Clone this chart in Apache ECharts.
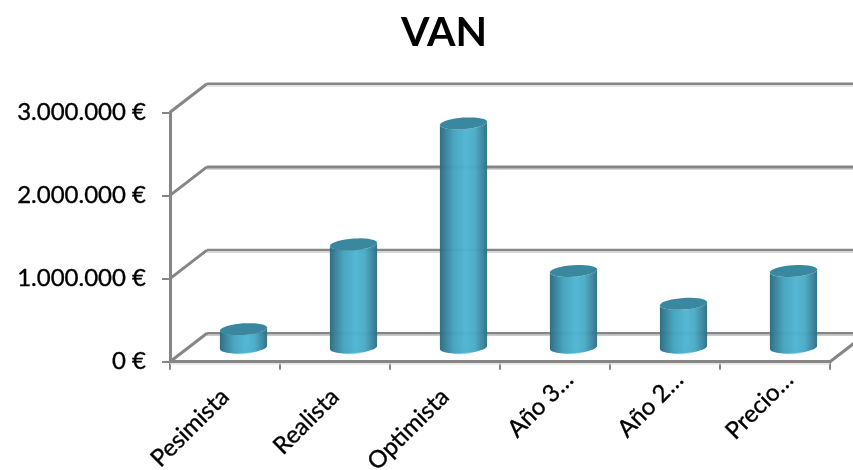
<!DOCTYPE html>
<html>
<head>
<meta charset="utf-8">
<script src="https://cdn.jsdelivr.net/npm/echarts@6/dist/echarts.min.js"></script>
<style>
  html, body { margin: 0; padding: 0; background: #fff; }
  #chart { width: 853px; height: 470px; }
</style>
</head>
<body>
<div id="chart"></div>
<script>
// VAN per scenario, drawn as 3D-style cylinders on a perspective floor.
const chartTitle = 'VAN';
const categories = ['Pesimista', 'Realista', 'Optimista', 'Año 3…', 'Año 2…', 'Precio…'];
const vanValues = [220000, 1240000, 2695000, 920000, 525000, 920000];
const tickValues = [0, 1000000, 2000000, 3000000];
const tickLabels = ['0 €', '1.000.000 €', '2.000.000 €', '3.000.000 €'];

// Oblique projection of the chart depth, in pixels.
const DEPTH_X = 37;
const DEPTH_Y = 28.5;
const GRID_COLOR = '#868686';
const SHADOW_COLOR = '#c9c9c9';
const FONT = 'Lato';
// A hairline outline gives the thin labels a little more weight.
const LABEL_WEIGHT = { textBorderColor: '#000', textBorderWidth: 0.35 };

function line(x1, y1, x2, y2, color, width) {
  return {
    type: 'line',
    shape: { x1, y1, x2, y2 },
    style: { stroke: color, lineWidth: width, fill: null }
  };
}

// Back wall gridlines with the diagonal that joins them to the front axis.
function renderWall(params, api) {
  const level = api.value(1);
  const p = api.coord([0, level]);
  const band = api.size([1, 0])[0];
  const x0 = p[0] - band / 2;
  const y0 = p[1];
  const backWidth = level === 2000000 ? 3 : 2.4;
  const children = [
    line(x0, y0, x0 + DEPTH_X, y0 - DEPTH_Y, GRID_COLOR, 3),
    line(x0 + DEPTH_X, y0 - DEPTH_Y + 2.2, api.getWidth(), y0 - DEPTH_Y + 2.2, SHADOW_COLOR, 1.2),
    line(x0 + DEPTH_X, y0 - DEPTH_Y, api.getWidth(), y0 - DEPTH_Y, GRID_COLOR, backWidth)
  ];
  if (level === 0) {
    const xr = x0 + band * categories.length;
    children.push(line(xr, y0, xr + DEPTH_X, y0 - DEPTH_Y, GRID_COLOR, 3));
    children.push(line(x0, y0 + 2.2, xr, y0 + 2.2, '#dedede', 1.4));
  }
  return { type: 'group', children };
}

// Tilted ellipse outline sampled between two angles.
function ellipsePoints(cx, cy, rx, ry, tilt, from, to) {
  const pts = [];
  const steps = 36;
  for (let i = 0; i <= steps; i++) {
    const a = from + (to - from) * i / steps;
    const ex = rx * Math.cos(a);
    const ey = ry * Math.sin(a);
    pts.push([
      cx + ex * Math.cos(tilt) - ey * Math.sin(tilt),
      cy + ex * Math.sin(tilt) + ey * Math.cos(tilt)
    ]);
  }
  return pts;
}

function renderCylinder(params, api) {
  const i = api.value(0);
  const top = api.coord([i, api.value(1)]);
  const base = api.coord([i, 0]);
  const cx = top[0] + DEPTH_X / 2;
  const yTop = top[1] - DEPTH_Y / 2;
  const yBase = base[1] - DEPTH_Y / 2;
  const rx = api.size([1, 0])[0] * 0.215;
  const ry = 5.8;
  const tilt = -0.07;
  const front = ellipsePoints(cx, yBase, rx, ry, tilt, 0, Math.PI);
  const back = ellipsePoints(cx, yTop, rx, ry, tilt, Math.PI, 0);
  const rim = ellipsePoints(cx, yBase + 0.9, rx * 0.72, ry, tilt, 0, Math.PI);
  const body = new echarts.graphic.LinearGradient(0, 0, 1, 0, [
    { offset: 0, color: '#2a6a7f' },
    { offset: 0.1, color: '#347f97' },
    { offset: 0.3, color: '#45a4bf' },
    { offset: 0.55, color: '#4fb5d2' },
    { offset: 0.74, color: '#4aabc7' },
    { offset: 0.9, color: '#3a86a0' },
    { offset: 1, color: '#2f6f85' }
  ]);
  return {
    type: 'group',
    children: [
      { type: 'polygon', shape: { points: rim }, style: { fill: '#a9dfec' } },
      { type: 'polygon', shape: { points: front.concat(back) }, style: { fill: body, opacity: 0.97 } },
      {
        type: 'polygon',
        shape: { points: ellipsePoints(cx, yTop, rx, ry, tilt, 0, Math.PI * 2) },
        style: { fill: '#3a88a0' }
      }
    ]
  };
}

const chart = echarts.init(document.getElementById('chart'), null, { renderer: 'canvas' });
chart.setOption({
  animation: false,
  backgroundColor: '#ffffff',
  title: {
    text: chartTitle,
    left: 396,
    top: 7,
    textStyle: { fontFamily: FONT, fontSize: 41, fontWeight: 'bold', color: '#000' }
  },
  grid: { left: 170, right: 23, top: 112.3, bottom: 108.3, containLabel: false, outerBoundsMode: 'none' },
  xAxis: {
    type: 'category',
    data: categories,
    boundaryGap: true,
    axisLine: { lineStyle: { color: GRID_COLOR, width: 3 } },
    axisTick: { show: true, alignWithLabel: false, length: 8, lineStyle: { color: GRID_COLOR, width: 2 } },
    axisLabel: {
      interval: 0,
      rotate: 45,
      margin: 0,
      fontFamily: FONT,
      fontSize: 24,
      color: '#000',
      // Shortened names sit further along the slant than the full ones.
      formatter: (name) => (name.endsWith('…') ? '{cut|' + name + '}' : '{full|' + name + '}'),
      rich: {
        full: { fontFamily: FONT, fontSize: 24, color: '#000', padding: [44, 22, 0, 0], ...LABEL_WEIGHT },
        cut: { fontFamily: FONT, fontSize: 24, color: '#000', padding: [40, 0, 0, 0], ...LABEL_WEIGHT }
      }
    }
  },
  yAxis: {
    type: 'value',
    min: 0,
    max: 3000000,
    interval: 1000000,
    splitLine: { show: false },
    axisLine: { show: true, lineStyle: { color: GRID_COLOR, width: 3 } },
    axisTick: { show: true, length: 8, lineStyle: { color: GRID_COLOR, width: 2 } },
    axisLabel: {
      margin: 24,
      fontFamily: FONT,
      fontSize: 24,
      color: '#000',
      ...LABEL_WEIGHT,
      formatter: (v) => tickLabels[tickValues.indexOf(v)]
    }
  },
  series: [
    {
      type: 'custom',
      renderItem: renderWall,
      clip: false,
      silent: true,
      z: 1,
      data: tickValues.map((v) => [0, v])
    },
    {
      type: 'custom',
      renderItem: renderCylinder,
      clip: false,
      z: 5,
      encode: { x: 0, y: 1 },
      data: vanValues.map((v, i) => [i, v])
    }
  ]
});
</script>
</body>
</html>
